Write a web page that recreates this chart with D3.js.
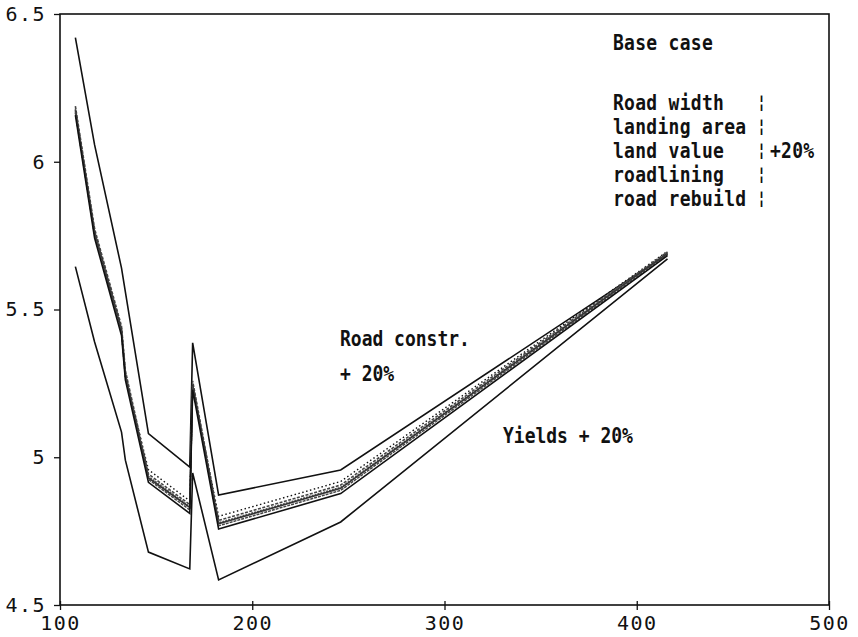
<!DOCTYPE html>
<html>
<head>
<meta charset="utf-8">
<script src="https://cdn.jsdelivr.net/npm/d3@7/dist/d3.min.js"></script>
<style>
  html, body { margin: 0; padding: 0; background: #fff; }
  svg { display: block; }
  .note { font-family: "DejaVu Sans Mono", "Liberation Mono", monospace; font-weight: bold; font-size: 18px; fill: #111; white-space: pre; }
  .axis text { font-family: "DejaVu Sans Mono", "Liberation Mono", monospace; font-size: 20px; letter-spacing: 1.5px; fill: #111; }
</style>
</head>
<body>
<svg id="chart" width="858" height="637"></svg>
<script>
// Road spacing (x) against cost (y) for each sensitivity case
const spacing = [108, 118, 132, 134, 146, 167.5, 169, 182.5, 246, 416];

const roadConstr   = [6.42, 6.057, 5.64, 5.56, 5.08, 4.967, 5.387, 4.872, 4.957, 5.688];
const yields       = [5.645, 5.39, 5.085, 4.99, 4.679, 4.622, 4.947, 4.585, 4.781, 5.671];

const baseCase     = [6.175, 5.76, 5.43, 5.28, 4.93, 4.83, 5.245, 4.775, 4.895, 5.690];
const roadWidth    = [6.188, 5.773, 5.443, 5.293, 4.943, 4.84, 5.258, 4.786, 4.906, 5.695];
const landingArea  = [6.165, 5.75, 5.42, 5.27, 4.958, 4.852, 5.235, 4.80, 4.918, 5.697];
const landValue    = [6.170, 5.755, 5.425, 5.275, 4.925, 4.822, 5.24, 4.768, 4.888, 5.686];
const roadlining   = [6.180, 5.765, 5.435, 5.285, 4.935, 4.833, 5.25, 4.778, 4.898, 5.692];
const roadRebuild  = [6.158, 5.742, 5.412, 5.262, 4.915, 4.81, 5.228, 4.757, 4.877, 5.682];

const xTicks = [100, 200, 300, 400, 500];
const yTicks = [4.5, 5, 5.5, 6, 6.5];

const series = [
  { values: roadConstr,  width: 1.6, dash: null, color: "#111" },
  { values: yields,      width: 1.6, dash: null, color: "#111" },
  { values: landingArea, width: 1.4, dash: "1.5,2.5", color: "#111" },
  { values: roadWidth,   width: 1.6, dash: "3,1.5", color: "#444" },
  { values: roadlining,  width: 1.6, dash: "2,1", color: "#555" },
  { values: baseCase,    width: 1.6, dash: null, color: "#333" },
  { values: landValue,   width: 1.5, dash: "3,1", color: "#444" },
  { values: roadRebuild, width: 1.6, dash: null, color: "#111" }
];

const legendRows = ["Road width", "landing area", "land value", "roadlining", "road rebuild"];

const notes = [
  { text: "Base case", x: 613, y: 50 },
  ...legendRows.map((t, i) => ({ text: t, x: 613, y: 110 + i * 24 })),
  ...legendRows.map((t, i) => ({ text: "\u00a6", x: 757, y: 108 + i * 24, size: 15 })),
  { text: "+20%", x: 770, y: 158 },
  { text: "Road constr.", x: 340, y: 346, ls: 0 },
  { text: "+ 20%", x: 340, y: 381, ls: 0 },
  { text: "Yields + 20%", x: 503, y: 443, ls: 0 }
];

const svg = d3.select("#chart");
const plotLeft = 60, plotRight = 829, plotTop = 14, plotBottom = 605;

const x = d3.scaleLinear().domain([100, 500]).range([plotLeft, plotRight]);
const y = d3.scaleLinear().domain([4.5, 6.5]).range([plotBottom, plotTop]);

const line = d3.line()
  .x((d, i) => x(spacing[i]))
  .y(d => y(d));

svg.append("g")
  .selectAll("path")
  .data(series)
  .join("path")
  .attr("d", d => line(d.values))
  .attr("fill", "none")
  .attr("stroke", d => d.color)
  .attr("stroke-width", d => d.width)
  .attr("stroke-dasharray", d => d.dash)
  .attr("stroke-linejoin", "miter");

// frame
svg.append("rect")
  .attr("x", plotLeft).attr("y", plotTop)
  .attr("width", plotRight - plotLeft).attr("height", plotBottom - plotTop)
  .attr("fill", "none").attr("stroke", "#111").attr("stroke-width", 1.6);

const xAxis = svg.append("g")
  .attr("class", "axis")
  .attr("transform", `translate(0,${plotBottom})`)
  .call(d3.axisBottom(x).tickValues(xTicks).tickFormat(d3.format("d")).tickSize(5).tickPadding(6));
const yAxis = svg.append("g")
  .attr("class", "axis")
  .attr("transform", `translate(${plotLeft},0)`)
  .call(d3.axisLeft(y).tickValues(yTicks).tickFormat(d => d).tickSize(6).tickPadding(8));

[xAxis, yAxis].forEach(a => {
  a.select(".domain").remove();
  a.selectAll("line").attr("stroke", "#111").attr("stroke-width", 1.3);
});
// bottom ticks cross the axis line
xAxis.selectAll(".tick line").attr("y1", -4).attr("y2", 5);

svg.append("g")
  .selectAll("text")
  .data(notes)
  .join("text")
  .attr("class", "note")
  .attr("transform", d => `translate(${d.x},${d.y}) scale(1,1.15)`)
  .style("font-size", d => (d.size || 18) + "px")
  .style("letter-spacing", d => (d.ls === undefined ? 0.3 : d.ls) + "px")
  .text(d => d.text);
</script>
</body>
</html>
